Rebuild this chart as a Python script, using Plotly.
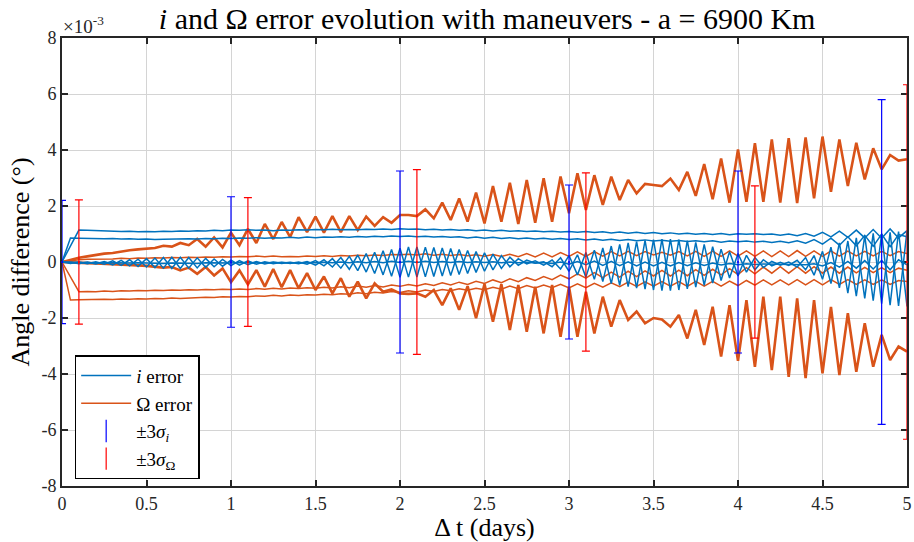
import plotly.graph_objects as go

# ---------------- data (angle differences in units of 1e-3 deg) ----------------
days = [round(0.05 * k, 2) for k in range(101)]          # sampling grid (days)
days_b = [0.0] + days[2:]                                 # runs whose first step is 0.1 d

omega_up = [0.0, 0.08, 0.15, 0.2, 0.25, 0.3, 0.32, 0.38, 0.42, 0.45,
            0.48, 0.5, 0.58, 0.55, 0.68, 0.6, 0.82, 0.55, 0.88, 0.52,
            1.05, 0.6, 1.18, 0.68, 1.36, 0.82, 1.43, 0.89, 1.6, 1.07,
            1.62, 1.05, 1.64, 1.07, 1.64, 1.14, 1.62, 1.29, 1.6, 1.4,
            1.68, 1.68, 1.64, 1.88, 1.56, 2.12, 1.5, 2.27, 1.44, 2.48,
            1.38, 2.71, 1.44, 2.83, 1.36, 2.93, 1.4, 2.99, 1.44, 3.05,
            1.74, 3.17, 1.86, 3.1, 2.04, 3.05, 2.21, 2.93, 2.45, 2.79,
            2.75, 2.71, 2.98, 2.57, 3.22, 2.36, 3.5, 2.24, 3.7, 2.12,
            4.02, 2.15, 4.24, 2.15, 4.38, 2.12, 4.42, 2.1, 4.45, 2.27,
            4.48, 2.51, 4.38, 2.71, 4.26, 2.95, 4.06, 3.31, 3.82, 3.62,
            3.67]
omega_dn = [0.0, -0.02, -0.03, -0.04, -0.05, -0.06, -0.07, -0.08, -0.1, -0.12,
            -0.14, -0.16, -0.2, -0.18, -0.3, -0.2, -0.42, -0.18, -0.48, -0.23,
            -0.72, -0.3, -0.8, -0.29, -0.88, -0.25, -0.9, -0.29, -0.94, -0.4,
            -1.0, -0.52, -1.12, -0.58, -1.24, -0.7, -1.3, -0.76, -1.06, -0.98,
            -1.12, -1.14, -1.12, -1.24, -1.0, -1.54, -0.94, -1.71, -0.86, -2.01,
            -0.79, -2.13, -0.79, -2.43, -0.82, -2.49, -0.88, -2.55, -0.82, -2.67,
            -0.88, -2.67, -1.06, -2.55, -1.24, -2.31, -1.36, -2.07, -1.77, -2.19,
            -2.0, -2.05, -2.31, -1.89, -2.73, -1.71, -2.96, -1.6, -3.38, -1.54,
            -3.53, -1.36, -3.74, -1.24, -3.86, -1.24, -4.1, -1.3, -4.15, -1.36,
            -3.98, -1.6, -4.04, -1.83, -3.92, -2.19, -3.74, -2.6, -3.5, -3.02,
            -3.2]
omega_a = [0.0, 0.05, 0.08, 0.1, 0.1, 0.12, 0.11, 0.13, 0.12, 0.14,
           0.13, 0.15, 0.14, 0.16, 0.15, 0.17, 0.16, 0.18, 0.17, 0.19,
           0.18, 0.2, 0.19, 0.21, 0.19, 0.21, 0.19, 0.2, 0.19, 0.21,
           0.2, 0.22, 0.2, 0.23, 0.21, 0.24, 0.22, 0.25, 0.23, 0.27,
           0.26, 0.28, 0.25, 0.29, 0.24, 0.28, 0.23, 0.27, 0.22, 0.26,
           0.21, 0.27, 0.2, 0.28, 0.19, 0.3, 0.18, 0.32, 0.18, 0.34,
           0.2, 0.36, 0.2, 0.37, 0.21, 0.37, 0.22, 0.38, 0.23, 0.37,
           0.25, 0.35, 0.24, 0.37, 0.22, 0.38, 0.2, 0.39, 0.2, 0.4,
           0.21, 0.4, 0.2, 0.4, 0.19, 0.4, 0.19, 0.41, 0.2, 0.4,
           0.2, 0.4, 0.21, 0.39, 0.22, 0.38, 0.22, 0.38, 0.23, 0.37,
           0.3]
omega_b = [0.0,
           -1.06, -1.05, -1.06, -1.04, -1.05, -1.03, -1.04, -1.02, -1.03,
           -1.01, -1.02, -1.0, -1.01, -0.99, -1.0, -0.98, -0.99, -0.97, -0.98,
           -0.96, -0.98, -0.95, -0.97, -0.94, -0.96, -0.93, -0.95, -0.92, -0.94,
           -0.9, -0.93, -0.88, -0.92, -0.86, -0.9, -0.84, -0.89, -0.82, -0.87,
           -0.8, -0.86, -0.78, -0.84, -0.74, -0.82, -0.72, -0.8, -0.69, -0.77,
           -0.64, -0.74, -0.6, -0.7, -0.56, -0.66, -0.52, -0.63, -0.47, -0.6,
           -0.42, -0.58, -0.38, -0.56, -0.36, -0.54, -0.33, -0.52, -0.32, -0.5,
           -0.3, -0.5, -0.29, -0.49, -0.27, -0.48, -0.26, -0.46, -0.24, -0.45,
           -0.2, -0.42, -0.18, -0.4, -0.17, -0.4, -0.17, -0.4, -0.17, -0.4,
           -0.18, -0.4, -0.18, -0.39, -0.19, -0.38, -0.2, -0.38, -0.22, -0.3]
omega_c = [0.0, -1.36, -1.35, -1.34, -1.35, -1.33, -1.34, -1.32, -1.33, -1.31,
           -1.32, -1.3, -1.31, -1.29, -1.3, -1.28, -1.28, -1.26, -1.27, -1.24,
           -1.25, -1.23, -1.24, -1.21, -1.22, -1.19, -1.21, -1.18, -1.2, -1.17,
           -1.18, -1.15, -1.17, -1.13, -1.15, -1.1, -1.13, -1.08, -1.11, -1.05,
           -1.09, -1.03, -1.07, -1.0, -1.05, -0.98, -1.03, -0.96, -1.01, -0.94,
           -0.99, -0.9, -0.97, -0.86, -0.95, -0.84, -0.93, -0.82, -0.92, -0.8,
           -0.93, -0.78, -0.92, -0.76, -0.9, -0.74, -0.88, -0.72, -0.87, -0.71,
           -0.86, -0.7, -0.86, -0.7, -0.87, -0.69, -0.86, -0.69, -0.86, -0.68,
           -0.84, -0.66, -0.83, -0.64, -0.82, -0.64, -0.82, -0.63, -0.82, -0.63,
           -0.82, -0.63, -0.8, -0.63, -0.8, -0.64, -0.8, -0.64, -0.8, -0.66,
           -0.7]

inc_a = [0.0,
         1.14, 1.13, 1.12, 1.1, 1.11, 1.09, 1.1, 1.08, 1.09,
         1.08, 1.1, 1.09, 1.11, 1.1, 1.12, 1.11, 1.13, 1.12, 1.14,
         1.13, 1.15, 1.13, 1.14, 1.12, 1.14, 1.13, 1.15, 1.14, 1.16,
         1.15, 1.17, 1.15, 1.16, 1.15, 1.17, 1.16, 1.18, 1.16, 1.19,
         1.17, 1.18, 1.15, 1.17, 1.14, 1.16, 1.13, 1.15, 1.12, 1.14,
         1.11, 1.13, 1.1, 1.12, 1.09, 1.11, 1.08, 1.1, 1.07, 1.09,
         1.06, 1.09, 1.05, 1.08, 1.04, 1.07, 1.03, 1.06, 1.02, 1.05,
         1.01, 1.04, 1.0, 1.03, 0.99, 1.02, 0.98, 1.02, 0.97, 1.01,
         0.99, 1.01, 0.98, 1.0, 0.96, 1.0, 0.94, 1.02, 0.92, 1.06,
         0.9, 1.1, 0.88, 1.14, 0.86, 1.16, 0.85, 1.18, 0.86, 1.12]
inc_b = [0.0, 0.86, 0.85, 0.84, 0.85, 0.83, 0.84, 0.82, 0.83, 0.81,
         0.82, 0.8, 0.81, 0.82, 0.81, 0.83, 0.82, 0.84, 0.83, 0.85,
         0.84, 0.86, 0.85, 0.87, 0.85, 0.87, 0.86, 0.88, 0.86, 0.89,
         0.87, 0.89, 0.88, 0.9, 0.88, 0.91, 0.89, 0.92, 0.9, 0.93,
         0.91, 0.93, 0.9, 0.92, 0.89, 0.91, 0.88, 0.9, 0.86, 0.89,
         0.85, 0.88, 0.84, 0.87, 0.83, 0.86, 0.82, 0.85, 0.81, 0.84,
         0.8, 0.83, 0.79, 0.82, 0.78, 0.81, 0.77, 0.8, 0.76, 0.79,
         0.75, 0.78, 0.74, 0.77, 0.73, 0.76, 0.72, 0.76, 0.71, 0.75,
         0.72, 0.75, 0.71, 0.74, 0.7, 0.74, 0.69, 0.76, 0.67, 0.8,
         0.64, 0.85, 0.6, 0.9, 0.58, 0.95, 0.56, 1.0, 0.55, 0.98,
         0.9]
inc_c = [0.0, -0.05, 0.0, -0.06, 0.01, -0.08, 0.04, -0.12, 0.08, -0.16,
         0.12, -0.2, 0.16, -0.23, 0.17, -0.22, 0.15, -0.19, 0.11, -0.15,
         0.07, -0.11, 0.04, -0.08, 0.01, -0.06, -0.01, -0.05, 0.0, -0.08,
         0.05, -0.14, 0.12, -0.22, 0.2, -0.31, 0.3, -0.41, 0.4, -0.51,
         0.49, -0.54, 0.54, -0.53, 0.52, -0.5, 0.48, -0.45, 0.41, -0.37,
         0.33, -0.28, 0.23, -0.17, 0.12, -0.07, 0.04, -0.11, 0.07, -0.25,
         0.23, -0.46, 0.34, -0.62, 0.5, -0.77, 0.63, -0.88, 0.73, -0.97,
         0.8, -1.02, 0.82, -1.0, 0.76, -0.9, 0.63, -0.75, 0.46, -0.57,
         0.3, -0.36, 0.16, -0.2, 0.02, -0.11, 0.0, -0.18, 0.16, -0.47,
         0.38, -0.77, 0.68, -1.11, 0.86, -1.3, 1.02, -1.49, 1.06, -1.57,
         1.11]
inc_d = [0.0, -0.01, -0.06, 0.0, -0.07, 0.02, -0.1, 0.06, -0.14, 0.1,
         -0.18, 0.14, -0.22, 0.17, -0.23, 0.16, -0.21, 0.13, -0.17, 0.09,
         -0.13, 0.05, -0.1, 0.02, -0.07, 0.0, -0.05, -0.01, -0.06, 0.02,
         -0.11, 0.08, -0.18, 0.16, -0.26, 0.25, -0.36, 0.35, -0.46, 0.45,
         -0.55, 0.54, -0.54, 0.53, -0.52, 0.5, -0.48, 0.45, -0.41, 0.37,
         -0.33, 0.28, -0.23, 0.17, -0.12, 0.07, -0.04, 0.01, -0.17, 0.15,
         -0.33, 0.26, -0.54, 0.42, -0.7, 0.57, -0.83, 0.68, -0.93, 0.77,
         -1.0, 0.82, -1.02, 0.8, -0.96, 0.7, -0.83, 0.55, -0.66, 0.37,
         -0.5, 0.24, -0.28, 0.08, -0.14, -0.01, -0.12, 0.06, -0.28, 0.23,
         -0.62, 0.53, -0.92, 0.75, -1.22, 0.94, -1.38, 1.01, -1.54, 1.09,
         -1.59]
inc_e = [0.0, -0.01, -0.02, -0.01, -0.03, -0.02, -0.03, -0.02, -0.04, -0.03,
         -0.04, -0.03, -0.05, -0.04, -0.05, -0.04, -0.05, -0.03, -0.04, -0.03,
         -0.04, -0.02, -0.03, -0.02, -0.03, -0.02, -0.03, -0.02, -0.03, -0.02,
         -0.03, -0.01, -0.03, 0.0, -0.03, 0.01, -0.03, 0.02, -0.03, 0.03,
         -0.02, 0.03, -0.02, 0.03, -0.02, 0.02, -0.02, 0.02, -0.02, 0.01,
         -0.02, 0.01, -0.03, 0.0, -0.03, -0.01, -0.04, -0.02, -0.05, 0.0,
         -0.08, 0.02, -0.1, 0.03, -0.12, 0.02, -0.13, 0.01, -0.14, 0.0,
         -0.14, -0.01, -0.14, -0.02, -0.13, -0.03, -0.12, -0.04, -0.11, -0.05,
         -0.1, -0.06, -0.09, -0.07, -0.08, -0.08, -0.08, -0.09, -0.1, -0.06,
         -0.14, -0.02, -0.18, 0.02, -0.22, 0.05, -0.25, 0.06, -0.28, 0.08,
         -0.1]

sig_i_days = [0.0, 1.0, 2.0, 3.0, 4.0, 4.85]
sig_i_3 = [2.2, 2.33, 3.25, 2.75, 3.25, 5.8]
sig_o_days = [0.1, 1.1, 2.1, 3.1, 4.1, 5.0]
sig_o_3 = [2.22, 2.3, 3.3, 3.18, 2.72, 6.33]

x_ticks = [0, 0.5, 1, 1.5, 2, 2.5, 3, 3.5, 4, 4.5, 5]
x_ticktext = ["0", "0.5", "1", "1.5", "2", "2.5", "3", "3.5", "4", "4.5", "5"]
y_ticks = [-8, -6, -4, -2, 0, 2, 4, 6, 8]
y_ticktext = ["-8", "-6", "-4", "-2", "0", "2", "4", "6", "8"]

# ---------------- styles ----------------
BLUE = "#0072BD"
ORANGE = "#D95319"
FONT = "'Liberation Serif', 'Times New Roman', Times, serif"
INK = "#262626"

fig = go.Figure()

def line(x, y, color, width, name=None, show=False, rank=1000):
    fig.add_trace(go.Scatter(x=x, y=y, mode="lines", name=name,
                             line=dict(color=color, width=width),
                             showlegend=show, legendrank=rank,
                             hoverinfo="skip"))

line(days, omega_up, ORANGE, 2.6)
line(days, omega_dn, ORANGE, 2.6)
line(days, omega_a, ORANGE, 1.5)
line(days_b, omega_b, ORANGE, 1.5)
line(days, omega_c, ORANGE, 1.5, name="Ω error", show=True, rank=2)
line(days_b, inc_a, BLUE, 1.5, name="<i>i</i> error", show=True, rank=1)
line(days, inc_b, BLUE, 1.5)
line(days, inc_c, BLUE, 1.5)
line(days, inc_d, BLUE, 1.5)
line(days, inc_e, BLUE, 1.5)

fig.add_trace(go.Scatter(
    x=sig_i_days, y=[0] * len(sig_i_days), mode="markers",
    marker=dict(size=2, color="#0000FF"), showlegend=False, cliponaxis=False,
    error_y=dict(type="data", array=sig_i_3, symmetric=True, color="#0000FF",
                 thickness=1.2, width=4), hoverinfo="skip"))
fig.add_trace(go.Scatter(
    x=sig_o_days, y=[0] * len(sig_o_days), mode="markers",
    marker=dict(size=2, color="#FF0000"), showlegend=False, cliponaxis=False,
    error_y=dict(type="data", array=sig_o_3, symmetric=True, color="#FF0000",
                 thickness=1.2, width=4), hoverinfo="skip"))

# legend-only entries for the error bars
fig.add_trace(go.Scatter(x=[None], y=[None], mode="markers", name="±3<i>σ<sub>i</sub></i>",
                         marker=dict(symbol="line-ns-open", size=16, color="#0000FF",
                                     line=dict(width=1.2, color="#0000FF")),
                         legendrank=3))
fig.add_trace(go.Scatter(x=[None], y=[None], mode="markers", name="±3<i>σ</i><sub>Ω</sub>",
                         marker=dict(symbol="line-ns-open", size=16, color="#FF0000",
                                     line=dict(width=1.2, color="#FF0000")),
                         legendrank=4))

axis_common = dict(
    showline=True, linecolor=INK, linewidth=2, mirror="ticks",
    ticks="inside", ticklen=6, tickwidth=1.5, tickcolor=INK,
    showgrid=True, gridcolor="#d4d4d4", gridwidth=1.3, zeroline=False,
    tickfont=dict(family=FONT, size=18, color=INK), layer="below traces",
    ticklabeloverflow="allow",
)

fig.update_layout(
    width=914, height=542,
    margin=dict(l=62, r=2, t=38, b=56),
    paper_bgcolor="white", plot_bgcolor="white",
    font=dict(family=FONT, color=INK),
    title=dict(text="<i>i</i> and Ω error evolution with maneuvers - a = 6900 Km",
               x=0.533, xanchor="center", y=0.965, yanchor="middle",
               font=dict(family=FONT, size=30, color="black")),
    xaxis=dict(range=[0, 5], tickvals=x_ticks, ticktext=x_ticktext,
               title=dict(text="Δ t (days)", font=dict(family=FONT, size=26, color="black"),
                          standoff=2),
               **axis_common),
    yaxis=dict(range=[-8, 8], tickvals=y_ticks, ticktext=y_ticktext,
               title=dict(text="Angle difference (°)", font=dict(family=FONT, size=26, color="black"),
                          standoff=4),
               **axis_common),
    legend=dict(x=0.015, y=0.292, xanchor="left", yanchor="top",
                bgcolor="white", bordercolor="black", borderwidth=1.5,
                font=dict(family=FONT, size=19, color="black"),
                itemwidth=50, tracegroupgap=0, traceorder="normal"),
    showlegend=True,
    annotations=[dict(xref="paper", yref="paper", x=0, y=1, xanchor="left", yanchor="bottom",
                      xshift=-1, yshift=-1, showarrow=False,
                      text="×10<sup>-3</sup>", font=dict(family=FONT, size=19, color=INK))],
)

fig.write_html("out.html")
